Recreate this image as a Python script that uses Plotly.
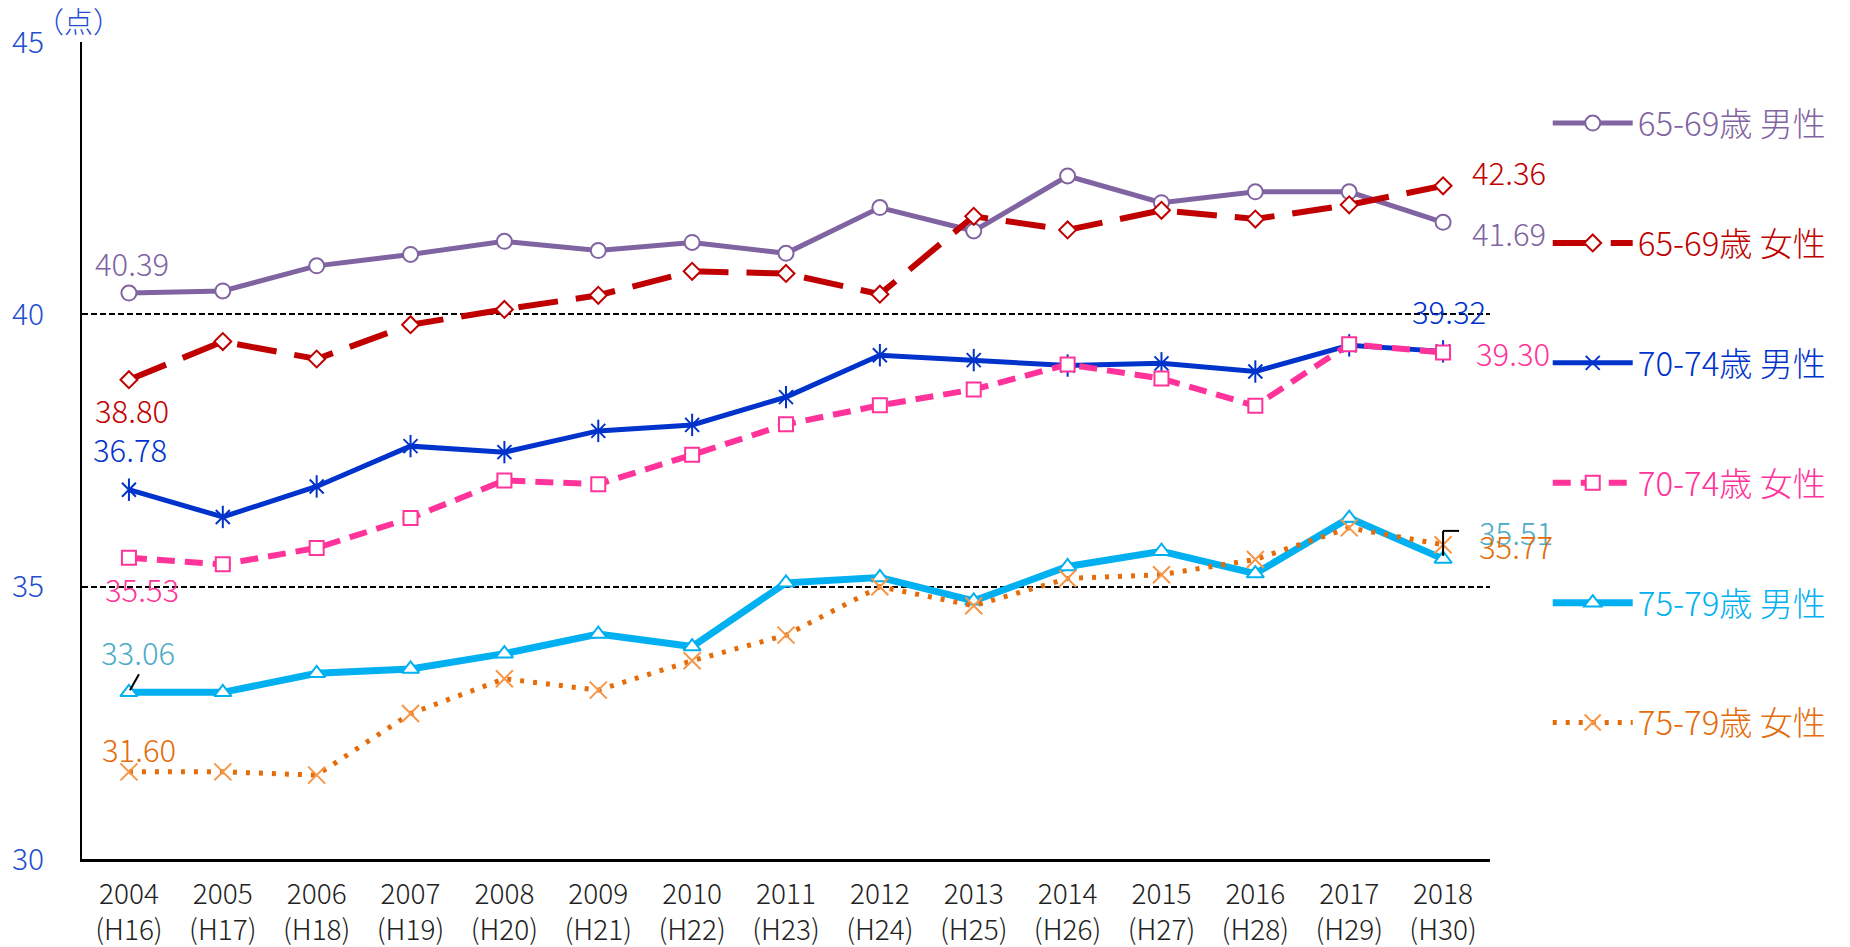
import plotly.graph_objects as go

# Years and Japanese era labels
years = ["2004", "2005", "2006", "2007", "2008", "2009", "2010", "2011",
         "2012", "2013", "2014", "2015", "2016", "2017", "2018"]
eras = ["H16", "H17", "H18", "H19", "H20", "H21", "H22", "H23",
        "H24", "H25", "H26", "H27", "H28", "H29", "H30"]

# Scores (points) by age group and sex
m65 = [40.39, 40.43, 40.89, 41.10, 41.34, 41.17, 41.32, 41.12,
       41.96, 41.53, 42.54, 42.05, 42.25, 42.25, 41.69]
f65 = [38.80, 39.50, 39.18, 39.81, 40.09, 40.35, 40.79, 40.75,
       40.37, 41.80, 41.55, 41.91, 41.75, 42.01, 42.36]
m70 = [36.78, 36.28, 36.84, 37.58, 37.47, 37.86, 37.97, 38.48,
       39.25, 39.16, 39.06, 39.10, 38.95, 39.43, 39.32]
f70 = [35.53, 35.41, 35.71, 36.26, 36.95, 36.88, 37.42, 37.98,
       38.33, 38.62, 39.08, 38.82, 38.32, 39.45, 39.30]
m75 = [33.06, 33.06, 33.41, 33.49, 33.77, 34.13, 33.90, 35.07,
       35.17, 34.74, 35.37, 35.65, 35.24, 36.26, 35.51]
f75 = [31.60, 31.60, 31.54, 32.67, 33.31, 33.10, 33.64, 34.11,
       35.00, 34.65, 35.15, 35.22, 35.50, 36.08, 35.77]

names = ["65-69歳 男性", "65-69歳 女性", "70-74歳 男性",
         "70-74歳 女性", "75-79歳 男性", "75-79歳 女性"]

FONT = "Noto Sans CJK JP"
W = 300
x = list(range(len(years)))
ticktext = [f"{y}<br>({e})" for y, e in zip(years, eras)]

C_PURPLE = "#8064A2"
C_RED = "#C00000"
C_BLUE = "#0033CC"
C_PINK = "#FF3399"
C_CYAN = "#00B0F0"
C_CYAN_LBL = "#4BACC6"
C_ORANGE = "#E46C0A"
C_ORANGE_MK = "#F79646"
C_AXIS_TXT = "#1F4FD0"

series = [
    dict(y=m65, name=names[0], color=C_PURPLE, width=5, dash="solid",
         marker=dict(symbol="circle", size=15, color="white",
                     line=dict(color=C_PURPLE, width=2))),
    dict(y=f65, name=names[1], color=C_RED, width=6, dash="40px,18px",
         marker=dict(symbol="diamond", size=13, color="white",
                     line=dict(color=C_RED, width=2))),
    dict(y=m70, name=names[2], color=C_BLUE, width=5, dash="solid",
         marker=dict(symbol="x-thin", size=14, color=C_BLUE,
                     line=dict(color=C_BLUE, width=2))),
    dict(y=f70, name=names[3], color=C_PINK, width=6, dash="18px,10px",
         marker=dict(symbol="square", size=14, color="white",
                     line=dict(color=C_PINK, width=2))),
    dict(y=m75, name=names[4], color=C_CYAN, width=7, dash="solid",
         marker=dict(symbol="triangle-up", size=15, color="white",
                     line=dict(color=C_CYAN, width=2))),
    dict(y=f75, name=names[5], color=C_ORANGE, width=5, dash="4px,9px",
         marker=dict(symbol="x-thin", size=17, color=C_ORANGE_MK,
                     line=dict(color=C_ORANGE_MK, width=2))),
]

fig = go.Figure()
for i, s in enumerate(series):
    fig.add_trace(go.Scatter(
        x=x, y=s["y"], mode="lines+markers",
        name=f'<span style="color:{s["color"]}">{s["name"]}</span>',
        legendgroup=f"g{i}",
        line=dict(color=s["color"], width=s["width"], dash=s["dash"]),
        marker=s["marker"],
        hoverinfo="skip",
    ))
    if i == 2:
        # vertical stroke that turns the x marker into an asterisk
        fig.add_trace(go.Scatter(
            x=x, y=s["y"], mode="markers", showlegend=False,
            legendgroup=f"g{i}",
            marker=dict(symbol="line-ns", size=16,
                        line=dict(color=C_BLUE, width=2)),
            hoverinfo="skip",
        ))

# Value labels on first and last points: (series, index, color, xshift, yshift)
labels = [
    (m65, 0, C_PURPLE, 3, 31), (m65, 14, C_PURPLE, 66, -10),
    (f65, 0, C_RED, 3, -30), (f65, 14, C_RED, 66, 14),
    (m70, 0, C_BLUE, 1, 41), (m70, 14, C_BLUE, 6, 41),
    (f70, 0, C_PINK, 13, -31), (f70, 14, C_PINK, 70, 0),
    (m75, 0, C_CYAN_LBL, 9, 41), (m75, 14, C_CYAN_LBL, 73, 27),
    (f75, 0, C_ORANGE, 10, 23), (f75, 14, C_ORANGE, 73, -1),
]
for vals, idx, col, dx, dy in labels:
    fig.add_annotation(
        x=x[idx], y=vals[idx], text=f"{vals[idx]:.2f}",
        showarrow=False, xshift=dx, yshift=dy,
        font=dict(family=FONT, size=31, color=col, weight=W),
    )

# Leader lines for the crowded 75-79 labels
fig.add_shape(type="line", xref="x", yref="y", xsizemode="pixel", ysizemode="pixel",
              xanchor=x[0], yanchor=m75[0], x0=1, y0=2, x1=10, y1=18,
              line=dict(color="black", width=2))
fig.add_shape(type="line", xref="x", yref="y", xsizemode="pixel", ysizemode="pixel",
              xanchor=x[14], yanchor=m75[14], x0=0, y0=3, x1=0, y1=28,
              line=dict(color="black", width=2))
fig.add_shape(type="line", xref="x", yref="y", xsizemode="pixel", ysizemode="pixel",
              xanchor=x[14], yanchor=m75[14], x0=0, y0=28, x1=16, y1=28,
              line=dict(color="black", width=2))

# Unit label
fig.add_annotation(
    xref="paper", yref="paper", x=-0.035, y=1.0, xanchor="left", yanchor="bottom",
    text="（点）", showarrow=False, yshift=-1,
    font=dict(family=FONT, size=29, color=C_AXIS_TXT, weight=W),
)

fig.update_layout(
    width=1850, height=947,
    margin=dict(l=82, r=360, t=42, b=88),
    paper_bgcolor="white", plot_bgcolor="white",
    font=dict(family=FONT, weight=W),
    showlegend=True,
    legend=dict(
        x=1.041, xanchor="left", y=0.935, yanchor="top",
        tracegroupgap=74, itemwidth=80,
        font=dict(family=FONT, size=33, weight=W),
        bgcolor="rgba(0,0,0,0)",
    ),
    xaxis=dict(
        range=[-0.5, 14.5], tickmode="array", tickvals=x, ticktext=ticktext,
        showgrid=False, zeroline=False, showline=True, automargin=False,
        linecolor="black", linewidth=3, ticks="", ticklabelstandoff=8,
        tickfont=dict(family=FONT, size=28, color="#222222", weight=W),
    ),
    yaxis=dict(
        range=[30, 45], tickvals=[30, 35, 40, 45], automargin=False,
        showgrid=True, gridcolor="black", gridwidth=2, griddash="6px,3px",
        zeroline=False, showline=True, linecolor="black", linewidth=2,
        ticks="", ticklabelstandoff=30,
        tickfont=dict(family=FONT, size=30, color=C_AXIS_TXT, weight=W),
    ),
)

fig.write_html("out.html")
